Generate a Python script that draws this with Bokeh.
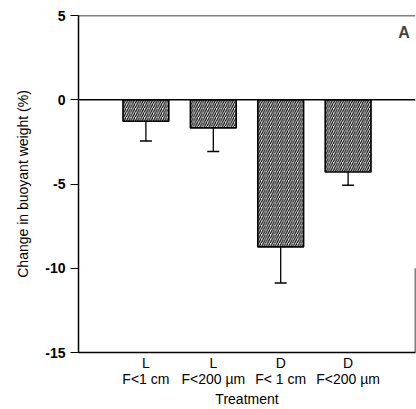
from bokeh.plotting import figure
from bokeh.models import (ColumnDataSource, FixedTicker, Span, Label, Whisker, Range1d,
                          LinearAxis)
from bokeh.embed import file_html
from bokeh.resources import INLINE

light = ["L", "L", "D", "D"]
food = ["F<1 cm", "F<200 \u00b5m", "F< 1 cm", "F<200 \u00b5m"]
positions = [1, 2, 3, 4]
change = [-1.28, -1.67, -8.73, -4.29]
error = [1.17, 1.40, 2.14, 0.78]
y_ticks = [5, 0, -5, -10, -15]
y_tick_labels = ["5", "0", "-5", "-10", "-15"]

lower = [c - e for c, e in zip(change, error)]

src = ColumnDataSource(dict(x=positions, top=[0]*4, bottom=change, upper=change, lower=lower))

p = figure(width=416, height=409, output_backend="svg", toolbar_location=None,
           x_range=Range1d(0, 5), y_range=Range1d(-15, 5),
           min_border_left=78, min_border_right=1, min_border_top=15, min_border_bottom=55)
p.outline_line_color = None
p.grid.visible = False
p.background_fill_color = "white"

p.vbar(x="x", top="top", bottom="bottom", width=0.68, source=src,
       fill_color="#e6e6e6", hatch_pattern="/", hatch_color="black", hatch_scale=4.5,
       hatch_weight=1.1, line_color="black", line_width=1.6)

w = Whisker(base="x", upper="upper", lower="lower", source=src, line_color="black",
            line_width=1.3, upper_head=None)
w.lower_head.size = 12
w.lower_head.line_width = 1.5
p.add_layout(w)

p.add_layout(Span(location=0, dimension="width", line_color="black", line_width=1.3))
p.add_layout(Span(location=5, dimension="width", line_color="black", line_width=1.5))
p.segment(x0=[5], y0=[-15], x1=[5], y1=[-10], line_color="black", line_width=1.5)

font = "Liberation Sans"
p.yaxis.ticker = FixedTicker(ticks=y_ticks)
p.yaxis.major_label_overrides = {t: s for t, s in zip(y_ticks, y_tick_labels)}
p.yaxis.major_tick_out = 8
p.yaxis.major_tick_in = 0
p.yaxis.minor_tick_line_color = None
p.yaxis.major_label_text_font = font
p.yaxis.major_label_text_font_size = "14px"
p.yaxis.major_label_text_font_style = "bold"
p.yaxis.major_label_text_color = "black"
p.yaxis.major_label_standoff = 5
p.yaxis.axis_line_width = 1.5
p.yaxis.axis_label = "Change in buoyant weight (%)"
p.yaxis.axis_label_text_font = font
p.yaxis.axis_label_text_font_size = "14px"
p.yaxis.axis_label_text_font_style = "normal"
p.yaxis.axis_label_text_color = "black"
p.yaxis.axis_label_standoff = 11

xa = p.xaxis[0]
xa.ticker = FixedTicker(ticks=positions)
xa.major_label_overrides = {pos: t for pos, t in zip(positions, light)}
xa.major_tick_line_color = None
xa.minor_tick_line_color = None
xa.major_label_text_font = font
xa.major_label_text_font_size = "14px"
xa.major_label_text_color = "black"
xa.major_label_standoff = -4
xa.axis_line_width = 1.5

xb = LinearAxis(ticker=FixedTicker(ticks=positions),
                major_label_overrides={pos: t for pos, t in zip(positions, food)},
                axis_line_color=None, major_tick_line_color=None, minor_tick_line_color=None,
                major_label_text_font=font, major_label_text_font_size="14px",
                major_label_text_color="black", major_label_standoff=-9,
                axis_label="Treatment", axis_label_text_font=font,
                axis_label_text_font_size="14px", axis_label_text_font_style="normal",
                axis_label_text_color="black", axis_label_standoff=1)
p.add_layout(xb, "below")

p.add_layout(Label(x=4.83, y=4.0, text="A", text_font=font, text_font_size="16px",
                   text_font_style="bold", text_align="center", text_baseline="middle"))

open("out.html", "w").write(file_html(p, INLINE))
